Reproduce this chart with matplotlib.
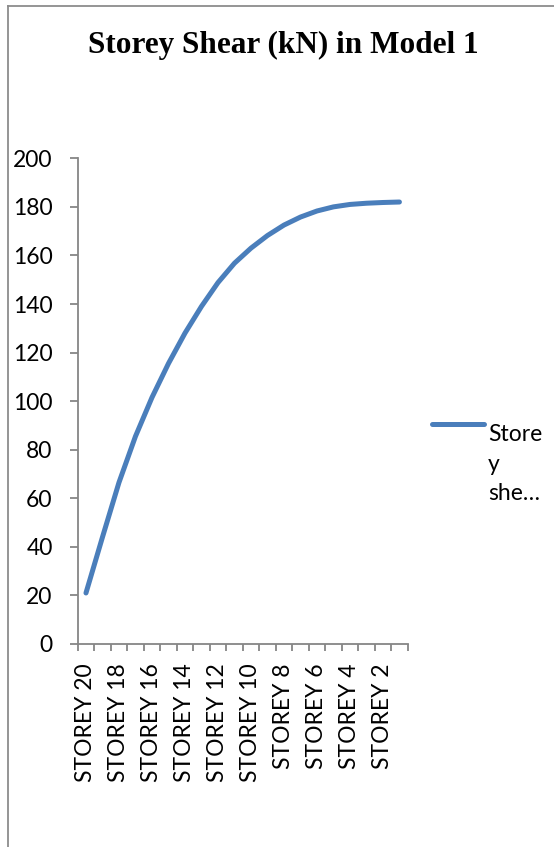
import matplotlib
matplotlib.use("Agg")
import matplotlib.pyplot as plt
from matplotlib.lines import Line2D
from matplotlib.ticker import FixedLocator

# Storey shear per floor, top storey first
storeys = [f"STOREY {n}" for n in range(20, 0, -1)]
shear_kn = [21, 44, 66.5, 85.5, 101.5, 115.5, 128, 139, 148.8, 156.8,
            163, 168.2, 172.5, 175.8, 178.3, 180, 181, 181.5, 181.8, 182]
y_ticks = list(range(0, 201, 20))
title = "Storey Shear (kN) in Model 1"
series_label = "Store\ny\nshe\u2026"

LINE_BLUE = "#4A7EBB"
AXIS_GREY = "#868686"
LABEL_FONT = ["Lato", "DejaVu Sans"]

fig = plt.figure(figsize=(5.54, 8.47), dpi=100)
ax = fig.add_axes([0.1403, 0.2397, 0.7359 - 0.1403, 0.8131 - 0.2397])

x = list(range(len(storeys)))
ax.plot(x, shear_kn, color=LINE_BLUE, lw=3.6, solid_capstyle="round",
        solid_joinstyle="round")

ax.set_xlim(-0.5, len(storeys) - 0.5)
ax.set_ylim(0, 200)

# category labels on every other storey, tick marks on category boundaries
ax.xaxis.set_major_locator(FixedLocator(x[::2]))
ax.set_xticklabels(storeys[::2], rotation=90, fontsize=16.5,
                   family=LABEL_FONT, va="top", ha="center")
ax.xaxis.set_minor_locator(FixedLocator([i - 0.5 for i in range(len(storeys) + 1)]))
ax.tick_params(axis="x", which="major", length=0, pad=14)
ax.tick_params(axis="x", which="minor", length=5, width=1.3, color=AXIS_GREY,
               direction="out")

ax.yaxis.set_major_locator(FixedLocator(y_ticks))
ax.set_yticklabels([str(v) for v in y_ticks], fontsize=16.5, family=LABEL_FONT)
ax.tick_params(axis="y", which="major", length=6, width=1.3, color=AXIS_GREY,
               direction="out", pad=12)

for side in ("top", "right"):
    ax.spines[side].set_visible(False)
for side in ("left", "bottom"):
    ax.spines[side].set_color(AXIS_GREY)
    ax.spines[side].set_linewidth(1.3)

fig.text(283 / 554, 1 - 45 / 847, title, ha="center", va="center",
         fontsize=22.5, fontweight="bold", family=["Liberation Serif", "DejaVu Serif"])

# legend entry: short line swatch next to a wrapped label
fig.add_artist(Line2D([432 / 554, 484 / 554], [1 - 424 / 847, 1 - 424 / 847],
                      color=LINE_BLUE, lw=3.6, solid_capstyle="round"))
fig.text(488 / 554, 1 - 424 / 847, series_label, ha="left", va="top",
         fontsize=16.5, family=LABEL_FONT, linespacing=1.5,
         transform=fig.transFigure)

# chart-area frame
fig.add_artist(Line2D([8 / 554, 8 / 554], [0, 1 - 6 / 847], color="#8c8c8c", lw=1.3))
fig.add_artist(Line2D([8 / 554, 1], [1 - 6 / 847, 1 - 6 / 847], color="#8c8c8c", lw=1.3))

fig.savefig("out.png", dpi=100)
